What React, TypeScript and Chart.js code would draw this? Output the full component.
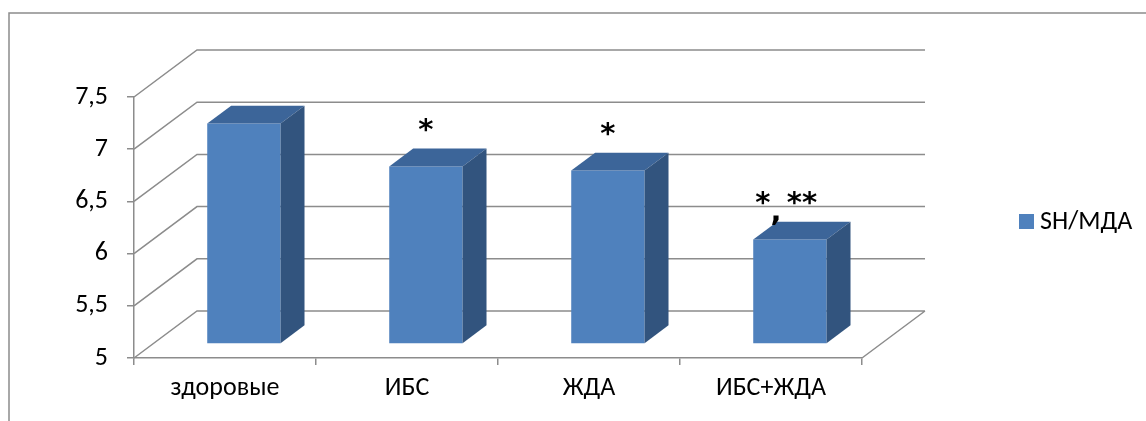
import React, { useEffect, useRef } from "react";
import { Chart, registerables } from "chart.js";

Chart.register(...registerables);

const categories = ["здоровые", "ИБС", "ЖДА", "ИБС+ЖДА"];
const values = [7.11, 6.7, 6.66, 6.0];
const seriesLabel = "SH/МДА";
const markers = ["", "*", "*", "*,**"];
const yMin = 5;
const yMax = 7.5;
const yStep = 0.5;

const FONT = "Carlito, Calibri, Lato, 'Open Sans', sans-serif";
const GRID = "#8c8c8c";
const FRONT = "#4F81BD";
const TOP = "#3C6599";
const SIDE = "#32547E";
// depth of the floor (px), bar front position and bar depth as fractions of it
const DX = 63;
const DY = -47;
const F1 = 0.3;
const F2 = 0.68;

const threeD = {
  id: "threeD",
  beforeDraw(chart: any) {
    const ctx = chart.ctx;
    ctx.save();
    ctx.fillStyle = "#fff";
    ctx.fillRect(0, 0, chart.width, chart.height);
    ctx.strokeStyle = GRID;
    ctx.lineWidth = 1.5;
    ctx.strokeRect(9, 13, chart.width + 50, chart.height + 50);
    ctx.restore();
  },
  beforeDatasetsDraw(chart: any) {
    const ctx = chart.ctx;
    const y = chart.scales.y;
    const { left, right } = chart.chartArea;
    ctx.save();
    ctx.strokeStyle = GRID;
    ctx.lineWidth = 1.5;
    ctx.beginPath();
    for (const t of y.ticks) {
      const py = y.getPixelForValue(t.value);
      ctx.moveTo(left, py);
      ctx.lineTo(left + DX, py + DY);
      ctx.lineTo(right + DX, py + DY);
    }
    const p0 = y.getPixelForValue(yMin);
    ctx.moveTo(right, p0);
    ctx.lineTo(right + DX, p0 + DY);
    ctx.stroke();
    ctx.restore();
    ctx.save();
    ctx.translate(F1 * DX, F1 * DY);
  },
  afterDatasetsDraw(chart: any) {
    const ctx = chart.ctx;
    const meta = chart.getDatasetMeta(0);
    const bx = (F2 - F1) * DX;
    const by = (F2 - F1) * DY;
    meta.data.forEach((bar: any) => {
      const { x, y, base, width } = bar.getProps(["x", "y", "base", "width"], true);
      const l = x - width / 2;
      const r = x + width / 2;
      ctx.fillStyle = TOP;
      ctx.beginPath();
      ctx.moveTo(l, y);
      ctx.lineTo(l + bx, y + by);
      ctx.lineTo(r + bx, y + by);
      ctx.lineTo(r, y);
      ctx.closePath();
      ctx.fill();
      ctx.fillStyle = SIDE;
      ctx.beginPath();
      ctx.moveTo(r, y);
      ctx.lineTo(r + bx, y + by);
      ctx.lineTo(r + bx, base + by);
      ctx.lineTo(r, base);
      ctx.closePath();
      ctx.fill();
    });
    // significance markers
    ctx.fillStyle = "#000";
    ctx.font = `bold 29px 'DejaVu Sans', sans-serif`;
    ctx.textAlign = "center";
    ctx.textBaseline = "middle";
    meta.data.forEach((bar: any, i: number) => {
      const m = markers[i];
      if (!m) return;
      const { x, y } = bar.getProps(["x", "y"], true);
      const ty = y - 35;
      if (m.includes(",")) {
        const [a, b] = m.split(",");
        ctx.fillText(a, x - 27, ty);
        ctx.fillText(b, x + 12, ty);
        ctx.fillText(",", x - 14, ty + 9);
      } else {
        ctx.fillText(m, x, ty);
      }
    });
    ctx.restore();
    // legend
    ctx.save();
    ctx.fillStyle = FRONT;
    ctx.fillRect(1019, 214, 15, 15);
    ctx.fillStyle = "#000";
    ctx.font = `26px ${FONT}`;
    ctx.textAlign = "left";
    ctx.textBaseline = "middle";
    ctx.fillText(chart.data.datasets[0].label, 1040, 222);
    ctx.restore();
  },
};

export default function App() {
  const ref = useRef<HTMLCanvasElement>(null);
  useEffect(() => {
    const chart = new Chart(ref.current as HTMLCanvasElement, {
      type: "bar",
      data: {
        labels: categories,
        datasets: [
          {
            label: seriesLabel,
            data: values,
            base: yMin,
            backgroundColor: FRONT,
            borderWidth: 0,
            barPercentage: 0.403,
            categoryPercentage: 1,
            clip: false as any,
          } as any,
        ],
      },
      options: {
        responsive: false,
        animation: false,
        layout: { padding: { top: 97, right: 284, left: 0, bottom: 0 } },
        plugins: { legend: { display: false }, tooltip: { enabled: false } },
        scales: {
          x: {
            afterFit: (s: any) => {
              s.height = 63;
            },
            grid: {
              offset: true,
              drawOnChartArea: false,
              tickLength: 7,
              color: GRID,
              lineWidth: 1.5,
            },
            border: { color: GRID, width: 1.5 },
            ticks: { color: "#000", font: { family: FONT, size: 26 }, padding: 8 },
          },
          y: {
            min: yMin,
            max: yMax,
            afterFit: (s: any) => {
              s.width = 134;
            },
            grid: { drawOnChartArea: false, tickLength: 7, color: GRID, lineWidth: 1.5 },
            border: { color: GRID, width: 1.5 },
            ticks: {
              stepSize: yStep,
              color: "#000",
              font: { family: FONT, size: 26 },
              padding: 19,
              callback: (v: any) => String(v).replace(".", ","),
            },
          },
        },
      },
      plugins: [threeD],
    });
    return () => chart.destroy();
  }, []);
  return (
    <div style={{ position: "absolute", left: 0, top: 0, width: 1146, height: 421 }}>
      <canvas ref={ref} width={1146} height={421} style={{ display: "block" }} />
    </div>
  );
}
